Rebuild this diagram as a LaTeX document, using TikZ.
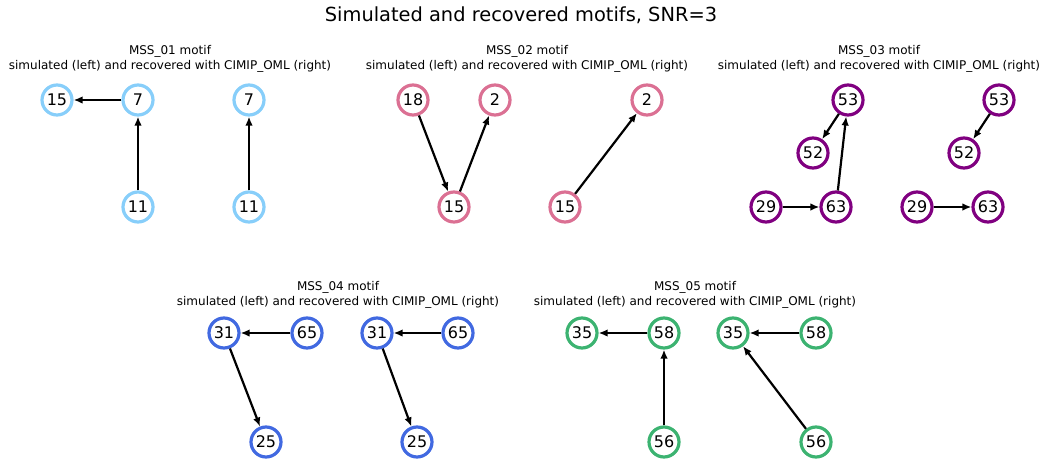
\documentclass[tikz,border=0pt]{standalone}
\usepackage{fontspec}
\setmainfont{DejaVu Sans}
\usetikzlibrary{arrows.meta}

\definecolor{skyc}{HTML}{87CEFA}
\definecolor{rosec}{HTML}{DB7093}
\definecolor{plumc}{HTML}{800080}
\definecolor{royalc}{HTML}{4169E1}
\definecolor{seac}{HTML}{3CB371}

\begin{document}
\begin{tikzpicture}[x=1pt,y=-1pt,line cap=round,line join=round,>={Latex[length=9pt,width=7.5pt]},
    motif/.style={circle,draw=#1,line width=3.2pt,fill=white,minimum size=30pt,inner sep=0pt,font=\fontsize{16}{19}\selectfont},
    link/.style={->,line width=2.2pt,black,line cap=butt},
    paneltitle/.style={font=\fontsize{12}{15.5}\selectfont,align=center}]

\def\sub{simulated (left) and recovered with CIMIP\_OML (right)}

\useasboundingbox (0,0) rectangle (1041,471);
\node[font=\fontsize{19.4}{23}\selectfont] (title) at (521,15) {Simulated and recovered motifs, SNR=3};

% MSS_01
\node[paneltitle] (t1) at (170,59) {MSS\_01 motif\\\sub};
\foreach \n/\x/\y in {15/57/100,7/138/100,11/138/207}
    \node[motif=skyc] (a\n) at (\x,\y) {\n};
\foreach \n/\x/\y in {7/249/100,11/249/207}
    \node[motif=skyc] (ar\n) at (\x,\y) {\n};
\draw[link] (a7) -- (a15);
\draw[link] (a11) -- (a7);
\draw[link] (ar11) -- (ar7);

% MSS_02
\node[paneltitle] (t2) at (527,59) {MSS\_02 motif\\\sub};
\foreach \n/\x/\y in {18/413/100,2/495/100,15/454/207}
    \node[motif=rosec] (b\n) at (\x,\y) {\n};
\foreach \n/\x/\y in {2/647/100,15/565/207}
    \node[motif=rosec] (br\n) at (\x,\y) {\n};
\draw[link] (b18) -- (b15);
\draw[link] (b15) -- (b2);
\draw[link] (br15) -- (br2);

% MSS_03
\node[paneltitle] (t3) at (879,59) {MSS\_03 motif\\\sub};
\foreach \n/\x/\y in {53/848/100,52/813/153,29/766/207,63/836/207}
    \node[motif=plumc] (c\n) at (\x,\y) {\n};
\foreach \n/\x/\y in {53/999/100,52/964/153,29/917/207,63/988/207}
    \node[motif=plumc] (cr\n) at (\x,\y) {\n};
\draw[link] (c53) -- (c52);
\draw[link] (c63) -- (c53);
\draw[link] (c29) -- (c63);
\draw[link] (cr53) -- (cr52);
\draw[link] (cr29) -- (cr63);

% MSS_04
\node[paneltitle] (t4) at (338,295) {MSS\_04 motif\\\sub};
\foreach \n/\x/\y in {31/224/333,65/307/333,25/266/442}
    \node[motif=royalc] (d\n) at (\x,\y) {\n};
\foreach \n/\x/\y in {31/377/333,65/458/333,25/417/442}
    \node[motif=royalc] (dr\n) at (\x,\y) {\n};
\draw[link] (d65) -- (d31);
\draw[link] (d31) -- (d25);
\draw[link] (dr65) -- (dr31);
\draw[link] (dr31) -- (dr25);

% MSS_05
\node[paneltitle] (t5) at (695,295) {MSS\_05 motif\\\sub};
\foreach \n/\x/\y in {35/582/333,58/664/333,56/664/442}
    \node[motif=seac] (e\n) at (\x,\y) {\n};
\foreach \n/\x/\y in {35/733/333,58/816/333,56/816/442}
    \node[motif=seac] (er\n) at (\x,\y) {\n};
\draw[link] (e58) -- (e35);
\draw[link] (e56) -- (e58);
\draw[link] (er58) -- (er35);
\draw[link] (er56) -- (er35);

\end{tikzpicture}
\end{document}
